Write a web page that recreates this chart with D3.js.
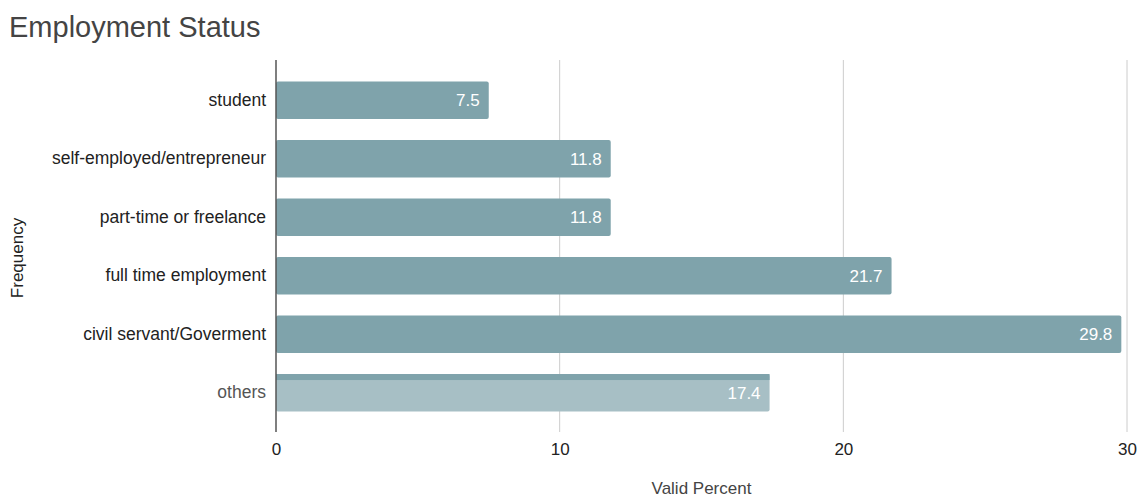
<!DOCTYPE html>
<html>
<head>
<meta charset="utf-8">
<script src="https://cdn.jsdelivr.net/npm/d3@7"></script>
<style>
  html, body { margin: 0; padding: 0; background: #fff; }
  svg { display: block; font-family: "Liberation Sans", Arial, sans-serif; }
</style>
</head>
<body>
<svg id="chart" width="1139" height="500"></svg>
<script>
// Employment status categories and their valid percentages
const categories = [
  "student",
  "self-employed/entrepreneur",
  "part-time or freelance",
  "full time employment",
  "civil servant/Goverment",
  "others"
];
const validPercent = [7.5, 11.8, 11.8, 21.7, 29.8, 17.4];
const xTicks = [0, 10, 20, 30];

const svg = d3.select("#chart");
const plot = { left: 276, right: 1127, top: 60, bottom: 432 };
const FONT = "Liberation Sans, Arial, sans-serif";

const x = d3.scaleLinear().domain([0, 30]).range([plot.left, plot.right]);
const y = d3.scaleBand()
  .domain(categories)
  .range([71, 422])
  .paddingInner(0.36)
  .paddingOuter(0.18);

// Title
svg.append("text")
  .attr("x", 9).attr("y", 37)
  .attr("font-size", 29)
  .attr("fill", "#444")
  .text("Employment Status");

// Vertical gridlines
svg.append("g").selectAll("line")
  .data(xTicks.filter(t => t > 0))
  .join("line")
  .attr("x1", d => x(d)).attr("x2", d => x(d))
  .attr("y1", plot.top).attr("y2", plot.bottom)
  .attr("stroke", "#cccccc").attr("stroke-width", 1);

// Bars
const rows = categories.map((c, i) => ({ cat: c, v: validPercent[i] }));
const bars = svg.append("g");
bars.selectAll("rect")
  .data(rows)
  .join("rect")
  .attr("x", x(0))
  .attr("y", d => y(d.cat))
  .attr("width", d => x(d.v) - x(0))
  .attr("height", y.bandwidth())
  .attr("rx", 2)
  .attr("fill", d => d.cat === "others" ? "#a7bfc5" : "#7fa3ab");

// Highlight strip on the selected "others" bar
const sel = rows.find(d => d.cat === "others");
bars.append("rect")
  .attr("x", x(0))
  .attr("y", y(sel.cat))
  .attr("width", x(sel.v) - x(0))
  .attr("height", 6)
  .attr("fill", "#7fa3ab");

// Value labels inside bar ends
svg.append("g").selectAll("text")
  .data(rows)
  .join("text")
  .attr("x", d => x(d.v) - 9)
  .attr("y", d => y(d.cat) + y.bandwidth() / 2)
  .attr("dy", "0.35em")
  .attr("text-anchor", "end")
  .attr("font-size", 17)
  .attr("fill", "#ffffff")
  .text(d => d3.format(".1f")(d.v));

// Category axis
const yAxis = svg.append("g")
  .attr("transform", `translate(${plot.left},0)`)
  .call(d3.axisLeft(y).tickSize(0).tickPadding(10));
yAxis.select(".domain").remove();
yAxis.selectAll("text")
  .attr("font-size", 17.5)
  .attr("font-family", FONT)
  .attr("fill", d => d === "others" ? "#555" : "#222");

// Baseline at zero
svg.append("line")
  .attr("x1", x(0)).attr("x2", x(0))
  .attr("y1", plot.top).attr("y2", plot.bottom)
  .attr("stroke", "#555").attr("stroke-width", 1.5);

// Value axis labels
const xAxis = svg.append("g")
  .attr("transform", `translate(0,${plot.bottom})`)
  .call(d3.axisBottom(x).tickValues(xTicks).tickSize(0).tickPadding(11).tickFormat(d3.format("d")));
xAxis.select(".domain").remove();
xAxis.selectAll("text")
  .attr("font-size", 17)
  .attr("font-family", FONT)
  .attr("fill", "#222");

// Axis titles
svg.append("text")
  .attr("x", (plot.left + plot.right) / 2)
  .attr("y", 494)
  .attr("text-anchor", "middle")
  .attr("font-size", 17)
  .attr("fill", "#444")
  .text("Valid Percent");

svg.append("text")
  .attr("transform", `translate(23,258) rotate(-90)`)
  .attr("text-anchor", "middle")
  .attr("font-size", 17)
  .attr("fill", "#222")
  .text("Frequency");
</script>
</body>
</html>
